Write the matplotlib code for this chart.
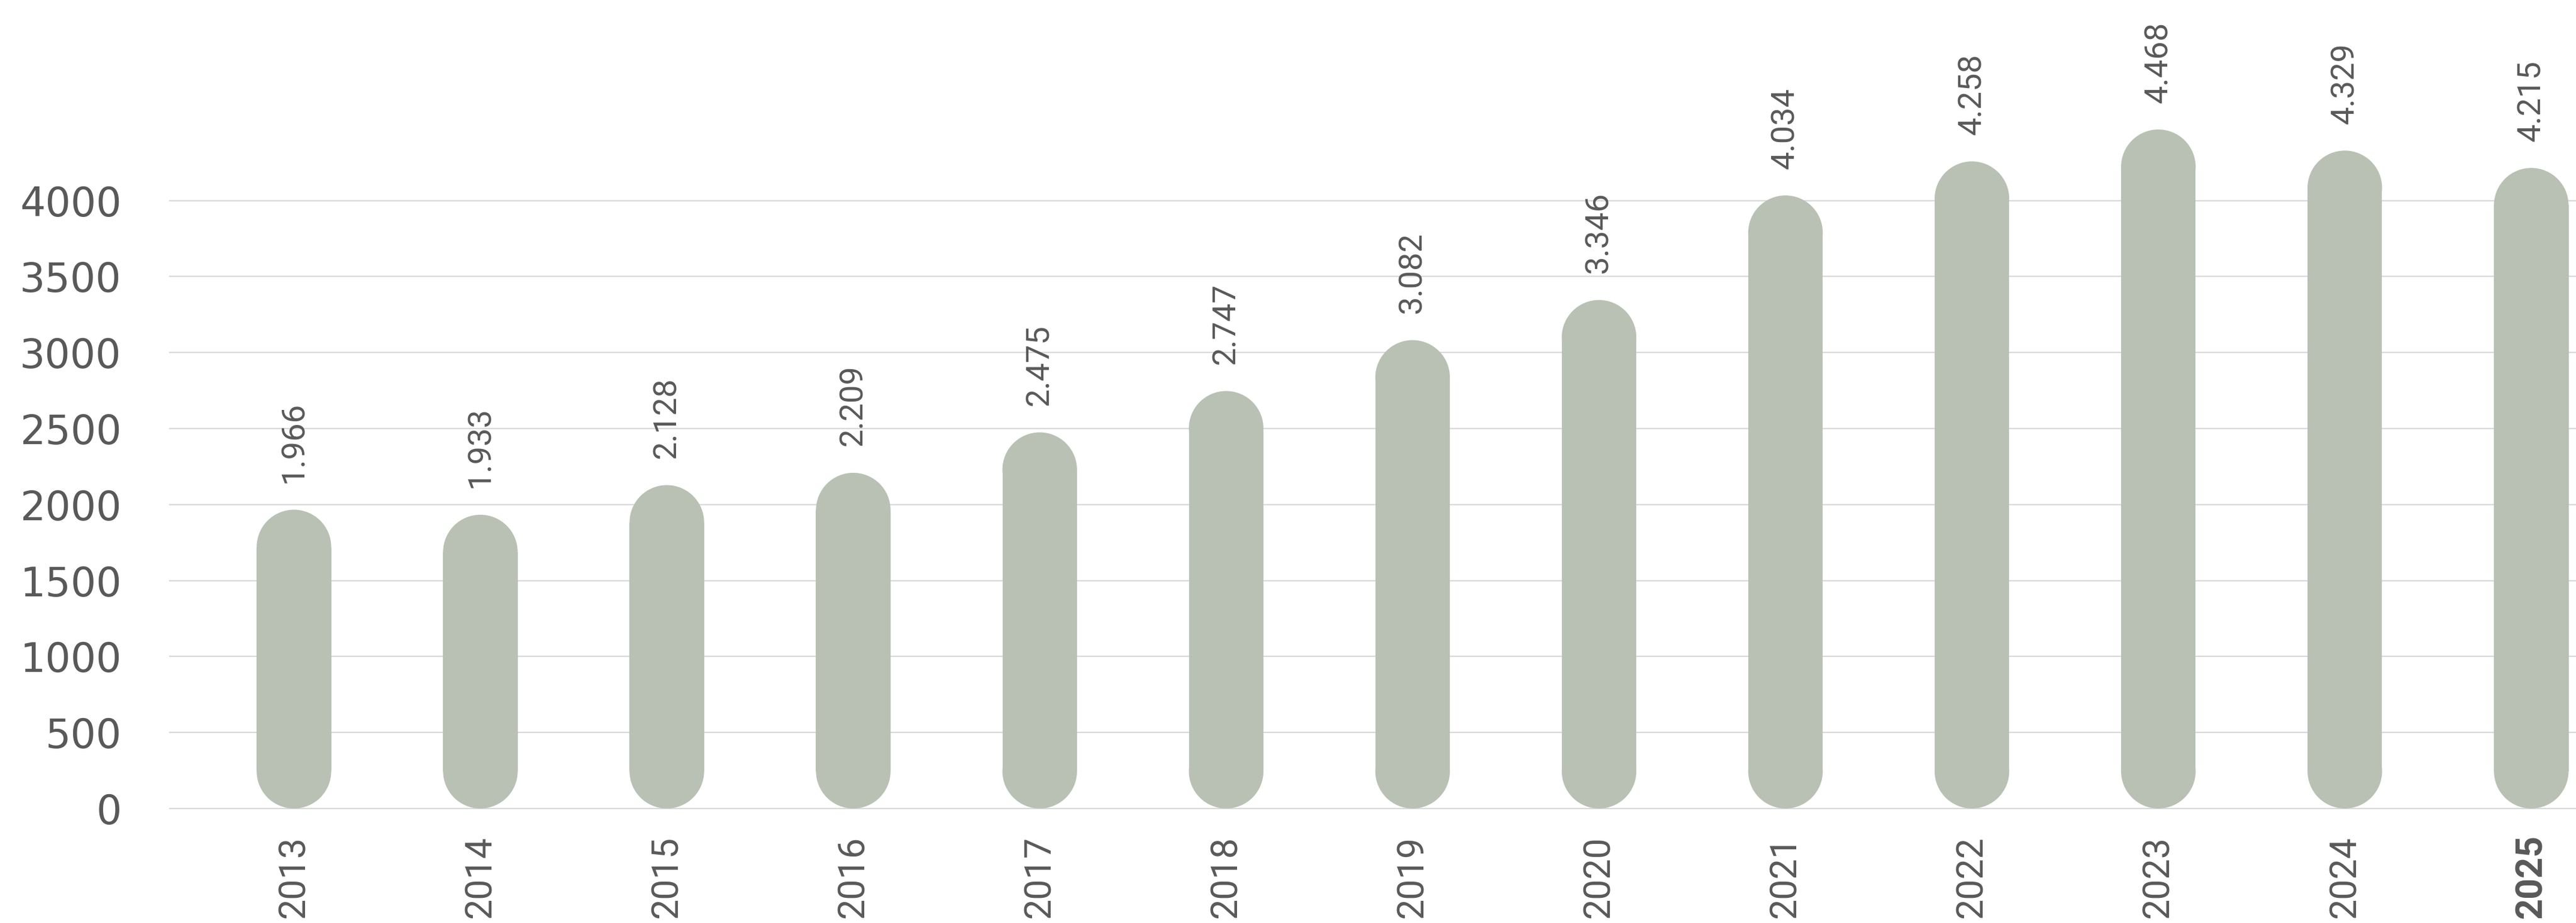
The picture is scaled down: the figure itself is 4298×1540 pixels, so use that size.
import matplotlib
matplotlib.use('Agg')
import matplotlib.pyplot as plt
import matplotlib.transforms as mtransforms
from matplotlib.patches import Rectangle, Ellipse

# ---- data ----
years = ['2013', '2014', '2015', '2016', '2017', '2018', '2019',
         '2020', '2021', '2022', '2023', '2024', '2025']
values = [1966, 1933, 2128, 2209, 2475, 2747, 3082,
          3346, 4034, 4258, 4468, 4329, 4215]
value_labels = ['1.966', '1.933', '2.128', '2.209', '2.475', '2.747', '3.082',
                '3.346', '4.034', '4.258', '4.468', '4.329', '4.215']
yticks = [0, 500, 1000, 1500, 2000, 2500, 3000, 3500, 4000]

# ---- style ----
BAR_COLOR = '#b8c1b4'
TEXT_COLOR = '#595959'
GRID_COLOR = '#d9d9d9'
W, H, DPI = 4298, 1540, 100

fig = plt.figure(figsize=(W / DPI, H / DPI), dpi=DPI)
fig.patch.set_facecolor('white')
ax_left, ax_bottom = 282 / W, 1 - 1351 / H
ax = fig.add_axes([ax_left, ax_bottom, 1 - ax_left, 1 - ax_bottom])

XMIN, XMAX = -0.67, 12.24
YMIN, YMAX = -8, 5320
ax.set_xlim(XMIN, XMAX)
ax.set_ylim(YMIN, YMAX)

x = list(range(len(years)))
bar_w = 0.4
bars = ax.bar(x, values, width=bar_w, color=BAR_COLOR)

# convert bars into pill shapes with circular caps
ax_w_px = (1 - ax_left) * W
ax_h_px = (1 - ax_bottom) * H
px_per_x = ax_w_px / (XMAX - XMIN)
px_per_y = ax_h_px / (YMAX - YMIN)
for b in bars:
    bx, bw, bh = b.get_x(), b.get_width(), b.get_height()
    b.remove()
    r_px = bw / 2 * px_per_x
    ry = r_px / px_per_y
    cx = bx + bw / 2
    ax.add_patch(Rectangle((bx, ry), bw, bh - 2 * ry, facecolor=BAR_COLOR,
                           edgecolor='none', zorder=2))
    ax.add_patch(Ellipse((cx, bh - ry), bw, 2 * ry, facecolor=BAR_COLOR,
                         edgecolor='none', zorder=2))
    ax.add_patch(Ellipse((cx, ry), bw, 2 * ry, facecolor=BAR_COLOR,
                         edgecolor='none', zorder=2))

# value labels
for xi, v, lab in zip(x, values, value_labels):
    ax.annotate(lab, (xi, v), xytext=(0, 32), textcoords='offset points',
                rotation=90, ha='center', va='bottom', fontsize=39,
                family='Roboto', color=TEXT_COLOR)

# y axis
ax.set_yticks(yticks)
ax.set_yticklabels([str(t) for t in yticks], family='DejaVu Sans',
                   fontsize=48, color=TEXT_COLOR)
for lbl in ax.get_yticklabels():
    lbl.set_va('center_baseline')
ax.tick_params(axis='y', length=0, pad=57)

# x axis: category labels anchored at their start near the bottom edge
ax.set_xticks(x)
ax.set_xticklabels([''] * len(x))
ax.tick_params(axis='x', length=0)
trans = mtransforms.blended_transform_factory(ax.transData, fig.transFigure)
for i, (xi, yr) in enumerate(zip(x, years)):
    ax.text(xi, 8 / H, yr, transform=trans, rotation=90, rotation_mode='anchor',
            ha='left', va='center', fontsize=44, family='Roboto',
            fontweight='bold' if i == len(years) - 1 else 'normal',
            color=TEXT_COLOR, clip_on=False)

ax.yaxis.grid(True, color=GRID_COLOR, linewidth=1.6)
ax.set_axisbelow(True)
for s in ax.spines.values():
    s.set_visible(False)

fig.savefig('out.png', dpi=DPI, facecolor='white')
